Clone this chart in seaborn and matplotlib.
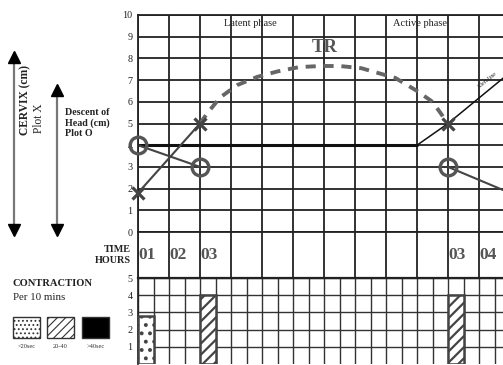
"""Partograph sheet: cervical dilatation (X), descent of head (O) and contractions."""

import matplotlib

matplotlib.use("Agg")
import matplotlib.pyplot as plt
import numpy as np
import pandas as pd
import seaborn as sns

sns.set_theme(style="white")
plt.rcParams["font.family"] = ["Liberation Serif", "DejaVu Serif"]
plt.rcParams["hatch.linewidth"] = 1.6
plt.rcParams["hatch.color"] = "#333333"

# ---- data (columns = hour cells on the sheet) ----
cervix_hours = [0, 2, 10]
cervix_cm = [1.8, 5.0, 5.0]
descent_hours = [0, 2, 10]
descent_cm = [4.0, 3.0, 3.0]
descent_tail_hours = [10, 12]
descent_tail_cm = [3.0, 1.8]
tr_hours = [2, 2.25, 2.65, 3.2, 3.85, 4.5, 5.2, 5.9, 6.5, 7.2, 8.3, 9.0, 9.5, 9.85, 10]
tr_cm = [5.0, 5.5, 6.2, 6.77, 7.15, 7.4, 7.6, 7.65, 7.65, 7.55, 7.1, 6.5, 6.0, 5.3, 5.0]
alert_hours = [0, 9]
alert_cm = [4, 4]
action_hours = [9, 10, 12]
action_cm = [4, 5, 7.35]
time_cols = [0, 1, 2, 10, 11]
time_labels = ["01", "02", "03", "03", "04"]
contraction_hours = [0, 2, 10]
contraction_count = [2.8, 4, 4]
contraction_hatch = ["..", "///", "///"]
legend_labels = ["<20sec", "20-40", ">40sec"]

W, H = 503, 365
XMAX = (503 - 138) / 31.0
GRID = "#222222"
INK = "#555555"


def box(x0, y0, x1, y1):
    return [x0 / W, 1 - y1 / H, (x1 - x0) / W, (y1 - y0) / H]


fig = plt.figure(figsize=(W / 100, H / 100), dpi=100)
ax = fig.add_axes(box(138, 15, 503, 232))
ax_t = fig.add_axes(box(138, 232, 503, 278))
ax_c = fig.add_axes(box(138, 278, 503, 364))

# ---- main grid ----
ax.set_xlim(0, XMAX)
ax.set_ylim(0, 10)
ax.set_xticks(range(0, 12))
ax.set_yticks(range(0, 11))
ax.grid(True, color=GRID, lw=1.3)
ax.tick_params(axis="x", labelbottom=False, length=0)
ax.tick_params(axis="y", length=0, pad=4, labelsize=7.3, labelcolor="#222222")
for s in ["left", "top", "bottom"]:
    ax.spines[s].set_color(GRID)
    ax.spines[s].set_linewidth(1.3)
ax.spines["right"].set_visible(False)

sns.lineplot(x=alert_hours, y=alert_cm, ax=ax, color="#111111", lw=2.2)
sns.lineplot(x=action_hours, y=action_cm, ax=ax, color="#111111", lw=1.1)
ax.text(11.25, 6.55, "Alert line", fontsize=4.2, rotation=39, ha="center", va="bottom",
        color="#222222")
sns.lineplot(x=tr_hours, y=tr_cm, ax=ax, color="#666666", lw=2.8, sort=False,
             linestyle=(0, (2.6, 2.0)))
sns.lineplot(x=cervix_hours[:2], y=cervix_cm[:2], ax=ax, color="#444444", lw=1.5)
sns.lineplot(x=descent_hours[:2], y=descent_cm[:2], ax=ax, color="#444444", lw=1.5)
sns.lineplot(x=descent_tail_hours, y=descent_tail_cm, ax=ax, color="#444444", lw=1.5)
ax.plot(cervix_hours, cervix_cm, ls="none", marker="x", ms=8.5, mew=2.3, color="#444444",
        zorder=5, clip_on=False)
ax.plot(descent_hours, descent_cm, ls="none", marker="o", ms=12, mew=2.4, mfc="none",
        color=INK, zorder=5, clip_on=False)
ax.text(3.63, 9.62, "Latent phase", fontsize=7.5, ha="center", va="center", color="#222222")
ax.text(9.1, 9.62, "Active phase", fontsize=7.5, ha="center", va="center", color="#222222")
ax.text(6.03, 8.5, "TR", fontsize=13.5, fontweight="bold", ha="center", va="center",
        color=INK)

# ---- time row ----
ax_t.set_xlim(0, XMAX)
ax_t.set_ylim(0, 1)
ax_t.set_xticks(range(0, 12))
ax_t.set_yticks([])
ax_t.grid(True, axis="x", color=GRID, lw=1.3)
ax_t.tick_params(length=0, labelbottom=False)
for s in ["left", "top", "bottom"]:
    ax_t.spines[s].set_color(GRID)
    ax_t.spines[s].set_linewidth(1.3)
ax_t.spines["right"].set_visible(False)
for c, lab in zip(time_cols, time_labels):
    ax_t.text(c + 0.02, 0.5, lab, fontsize=12.5, fontweight="bold", ha="left", va="center",
              color=INK)
ax_t.text(-0.22, 0.5, "TIME\nHOURS", fontsize=7.3, fontweight="bold", ha="right",
          va="center", linespacing=1.25, color="#222222")

# ---- contractions ----
ax_c.set_xlim(0, XMAX)
ax_c.set_ylim(0, 5)
ax_c.set_xticks(np.arange(0, 12, 0.5))
ax_c.set_yticks(range(1, 6))
ax_c.grid(True, color="#333333", lw=1.0)
ax_c.tick_params(axis="x", labelbottom=False, length=0)
ax_c.tick_params(axis="y", length=0, pad=4, labelsize=7.3, labelcolor="#222222")
ax_c.spines["left"].set_color(GRID)
ax_c.spines["top"].set_color(GRID)
ax_c.spines["top"].set_linewidth(1.6)
ax_c.spines["right"].set_visible(False)
ax_c.spines["bottom"].set_visible(False)
for h, n, ht in zip(contraction_hours, contraction_count, contraction_hatch):
    ax_c.bar(h, n, width=0.5, align="edge", facecolor="white", edgecolor="#444444",
             lw=1.8, hatch=ht, zorder=3)

# ---- left-hand annotations (pixel overlay) ----
ov = fig.add_axes([0, 0, 1, 1], zorder=-1)
ov.set_xlim(0, W)
ov.set_ylim(H, 0)
ov.axis("off")
for x, y0, y1 in [(14, 52, 235), (57, 85, 235)]:
    ov.plot([x, x], [y0 + 6, y1 - 6], color="#777777", lw=1.6)
    ov.plot([x], [y0 + 5], marker="^", ms=9, color="black")
    ov.plot([x], [y1 - 5], marker="v", ms=9, color="black")
ov.text(25, 100, "CERVIX (cm)", rotation=90, fontsize=8.3, fontweight="bold",
        ha="center", va="center", color="#222222")
ov.text(39, 118, "Plot X", rotation=90, fontsize=8.3, ha="center", va="center",
        color="#222222")
ov.text(65, 123, "Descent of\nHead (cm)\nPlot O", fontsize=7.2, fontweight="bold",
        ha="left", va="center", linespacing=1.2, color="#222222")
ov.text(13, 283, "CONTRACTION", fontsize=7.6, fontweight="bold", ha="left", va="center",
        color="#222222")
ov.text(13, 297, "Per 10 mins", fontsize=7.8, ha="left", va="center", color="#222222")
with plt.rc_context({"hatch.linewidth": 0.8}):
    for x0, ht, fc, lab in zip([13, 47, 82], ["....", "////", None],
                               ["white", "white", "black"], legend_labels):
        ov.add_patch(plt.Rectangle((x0, 317), 27, 21, facecolor=fc, edgecolor="#333333",
                                   lw=1.0, hatch=ht))
        ov.text(x0 + 13.5, 347, lab, fontsize=4.6, ha="center", va="center",
                color="#333333")

fig.savefig("out.png", dpi=100)
